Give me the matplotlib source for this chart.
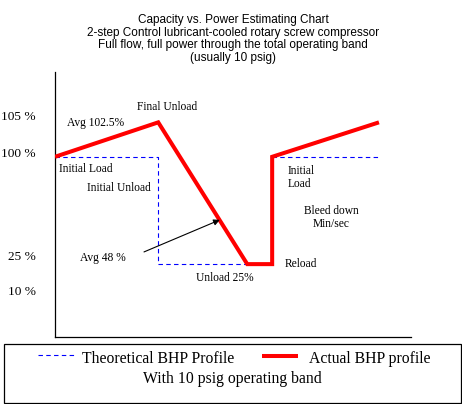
import matplotlib
matplotlib.use("Agg")
import matplotlib.pyplot as plt
from matplotlib.lines import Line2D
from matplotlib.patches import Rectangle

# ---- data (chart units: time 0-100, level 0-100) ----
actual_t = [0, 29, 54, 61, 61, 91]
actual_y = [68, 81, 27.5, 27.5, 68, 81]
theo_t1 = [0, 29, 29, 54]
theo_y1 = [68, 68, 27.5, 27.5]
theo_t2 = [61, 91]
theo_y2 = [68, 68]
ytick_pos = [83.4, 69.8, 30.6, 17.4]
ytick_labels = ["105 %", "100 %", "25 %", "10 %"]
title_lines = ["Capacity vs. Power Estimating Chart",
               "2-step Control lubricant-cooled rotary screw compressor",
               "Full flow, full power through the total operating band",
               "(usually 10 psig)"]

W, H = 462, 404
fig = plt.figure(figsize=(W / 100, H / 100), dpi=100)
fig.patch.set_facecolor("white")

def fx(x):
    return x / W

def fy(y):
    return 1 - y / H

serif = "Liberation Serif"
sans = "Liberation Sans"

ax = fig.add_axes([fx(55), fy(337), fx(411) - fx(55), fy(72) - fy(337)])
ax.set_xlim(0, 100)
ax.set_ylim(0, 100)
for s in ["top", "right"]:
    ax.spines[s].set_visible(False)
for s in ["left", "bottom"]:
    ax.spines[s].set_linewidth(0.9)
    ax.spines[s].set_color("black")
ax.set_xticks([])
ax.set_yticks(ytick_pos)
ax.set_yticklabels(ytick_labels, fontfamily=serif, fontsize=9.6)
ax.tick_params(axis="y", length=0, pad=14)

ax.plot(theo_t1, theo_y1, color="#0000ff", lw=0.8, dashes=(4, 3), zorder=2)
ax.plot(theo_t2, theo_y2, color="#0000ff", lw=0.8, dashes=(4, 3), zorder=2)
ax.plot(actual_t, actual_y, color="#ff0000", lw=2.9, solid_joinstyle="miter",
        solid_capstyle="butt", zorder=3)

ax.annotate("", xy=(46.3, 44.2), xytext=(25.0, 32.1),
            arrowprops=dict(arrowstyle="-|>", color="black", lw=0.8,
                            mutation_scale=9, shrinkA=0, shrinkB=0))

# title
for i, line in enumerate(title_lines):
    fig.text(fx(233), fy(20 + i * 12.7), line, ha="center", va="center",
             fontfamily=sans, fontsize=8.5)

fs = 8.3
def t(x, y, s, ha="left"):
    fig.text(fx(x), fy(y), s, ha=ha, va="center", fontfamily=serif,
             fontsize=fs, linespacing=1.1)

t(67, 123, "Avg 102.5%")
t(137, 107, "Final Unload")
t(59, 169, "Initial Load")
t(87, 188, "Initial Unload")
t(80, 258, "Avg 48 %")
t(196, 278, "Unload 25%")
t(285, 264, "Reload")
t(288, 177.5, "Initial\nLoad")
t(331, 217.5, "Bleed down\nMin/sec", ha="center")

# legend box
fig.patches.append(Rectangle((fx(4), fy(403)), fx(461) - fx(4), fy(344) - fy(403),
                             transform=fig.transFigure, fill=False,
                             edgecolor="black", lw=0.9))
fig.lines.append(Line2D([fx(38), fx(74)], [fy(355), fy(355)], transform=fig.transFigure,
                        color="#0000ff", lw=0.8, dashes=(4, 3)))
fig.lines.append(Line2D([fx(262), fx(298)], [fy(356), fy(356)], transform=fig.transFigure,
                        color="#ff0000", lw=2.9, solid_capstyle="butt"))
lfs = 11.3
fig.text(fx(82), fy(359), "Theoretical BHP Profile", ha="left", va="center",
         fontfamily=serif, fontsize=lfs)
fig.text(fx(309), fy(359), "Actual BHP profile", ha="left", va="center",
         fontfamily=serif, fontsize=lfs)
fig.text(fx(232), fy(379), "With 10 psig operating band", ha="center", va="center",
         fontfamily=serif, fontsize=lfs)

fig.savefig("out.png", dpi=100, facecolor="white")
